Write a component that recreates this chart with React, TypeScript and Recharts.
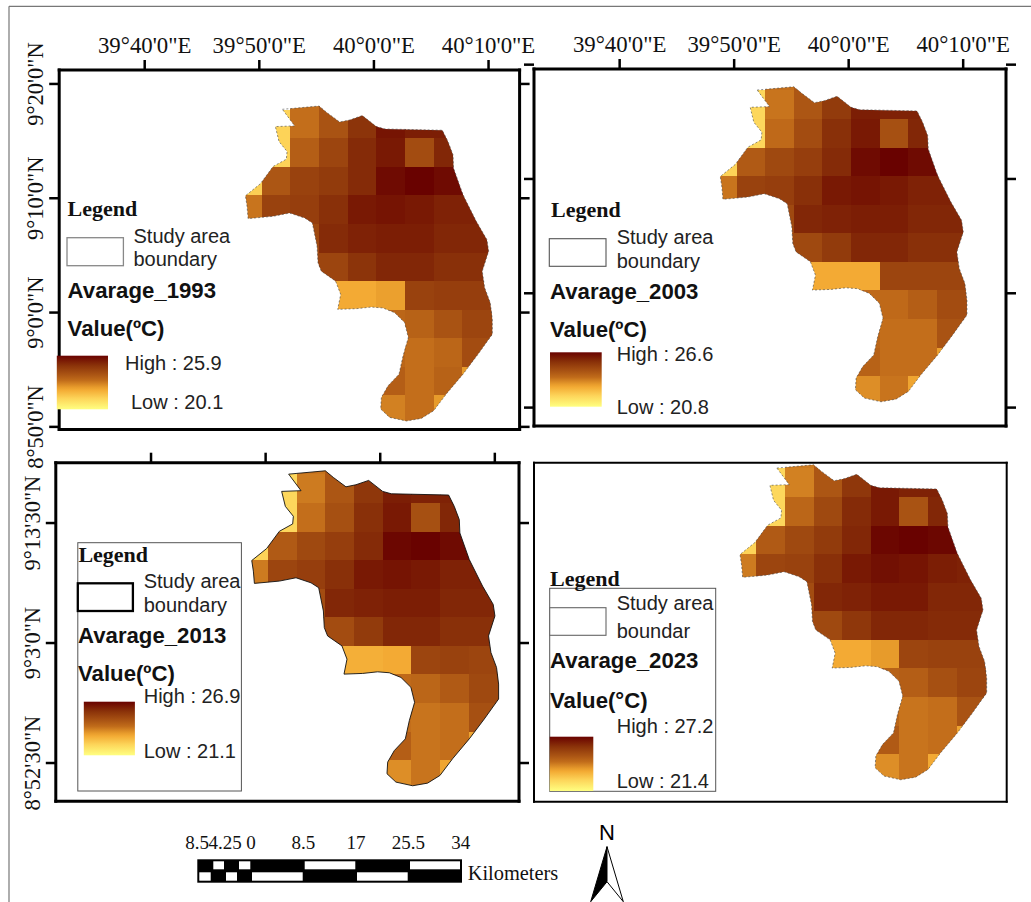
import React from 'react';
import { ScatterChart, Scatter, XAxis, YAxis, ReferenceArea } from 'recharts';

const years = ['1993', '2003', '2013', '2023'];
const highs = [25.9, 26.6, 26.9, 27.2];
const lows = [20.1, 20.8, 21.1, 21.4];
const lonTicks = [40, 50, 60, 70];
const lonTickLabels = ['39°40\'0"E', '39°50\'0"E', '40°0\'0"E', '40°10\'0"E'];
const latTicksUpper = [560, 550, 540, 530];
const latTickLabelsUpper = ['9°20\'0"N', '9°10\'0"N', '9°0\'0"N', '8°50\'0"N'];
const latTicksLower = [553.5, 543, 532.5];
const latTickLabelsLower = ['9°13\'30"N', '9°3\'0"N', '8°52\'30"N'];
const scaleLabels = ['8.5', '4.25', '0', '8.5', '17', '25.5', '34'];

// raster grid: west edges of columns and north edges of rows, in arc-minutes (lon past 39°, lat past 0°)
const colWest = [47.71, 50.21, 52.71, 55.21, 57.71, 60.21, 62.71, 65.21, 67.71, 70.21];
const rowNorth = [560.25, 557.75, 555.25, 552.75, 550.25, 547.75, 545.25, 542.75, 540.25, 537.75, 535.25, 532.75];
const cellSize = 2.5;

const n = null;
const values1993 = [
  [n, n, 23.2, 23.9],
  [n, 21.3, 23.2, 23.9, 24.8, 25.5, 25.3, 25.3],
  [n, 21.3, 23.6, 24.3, 25.0, 25.4, 24.1, 25.1],
  [21.4, 23.8, 24.4, 24.6, 25.0, 25.7, 25.9, 25.7, 25.5],
  [23.1, 24.4, 24.5, 24.9, 25.4, 25.5, 25.4, 25.2, 25.2],
  [n, n, 24.2, 25.0, 25.2, 25.3, 25.3, 25.1, 25.1],
  [n, n, 24.3, 24.3, 24.8, 25.1, 25.1, 24.9, 24.9],
  [n, n, n, 22.2, 22.2, 22.4, 24.4, 24.5, 24.5],
  [n, n, n, n, 22.2, 23.4, 23.5, 23.9, 24.3, 24.3],
  [n, n, n, n, n, 23.4, 23.2, 23.4, 24.1, 24.1],
  [n, n, n, n, n, 23.6, 23.2, 23.5, 22.5],
  [n, n, n, n, n, 22.9, 23.2, 22.5],
];
const values2003 = [
  [n, n, 23.9, 24.5],
  [n, 21.9, 23.8, 24.5, 25.3, 26.0, 25.9, 25.9],
  [n, 21.9, 24.0, 24.8, 25.6, 26.1, 24.7, 25.8],
  [22.0, 24.4, 24.9, 25.2, 25.7, 26.4, 26.6, 26.4, 26.3],
  [23.8, 25.1, 25.2, 25.6, 26.1, 26.2, 26.1, 25.9, 25.9],
  [n, n, 24.9, 25.8, 25.9, 26.0, 26.0, 25.8, 25.8],
  [n, n, 24.9, 24.9, 25.3, 25.8, 25.8, 25.6, 25.6],
  [n, n, n, 22.9, 22.9, 22.9, 25.0, 25.0, 25.0],
  [n, n, n, n, 22.9, 24.0, 24.0, 24.3, 24.8, 24.8],
  [n, n, n, n, n, 24.1, 23.9, 23.9, 24.6, 24.6],
  [n, n, n, n, n, 24.2, 23.9, 23.9, 23.1],
  [n, n, n, n, n, 23.4, 23.8, 23.0],
];
const values2013 = [
  [n, n, 24.1, 24.7],
  [n, 22.2, 24.0, 24.8, 25.7, 26.3, 26.2, 26.2],
  [n, 22.2, 24.2, 25.0, 25.9, 26.4, 25.0, 26.1],
  [22.3, 24.7, 25.2, 25.5, 26.0, 26.8, 26.9, 26.7, 26.6],
  [24.0, 25.3, 25.5, 25.9, 26.4, 26.5, 26.4, 26.2, 26.2],
  [n, n, 25.1, 26.1, 26.2, 26.3, 26.3, 26.1, 26.1],
  [n, n, 25.1, 25.1, 25.6, 26.1, 26.1, 25.9, 25.9],
  [n, n, n, 23.1, 23.1, 23.2, 25.3, 25.4, 25.3],
  [n, n, n, n, 23.1, 24.3, 24.4, 24.7, 25.2, 25.2],
  [n, n, n, n, n, 24.2, 24.1, 24.2, 25.0, 25.0],
  [n, n, n, n, n, 24.6, 24.1, 24.2, 23.3],
  [n, n, n, n, n, 23.7, 24.1, 23.3],
];
const values2023 = [
  [n, n, 24.3, 25.0],
  [n, 22.5, 24.2, 25.1, 26.0, 26.7, 26.5, 26.5],
  [n, 22.5, 24.7, 25.5, 26.3, 26.7, 25.2, 26.4],
  [22.6, 25.0, 25.5, 25.9, 26.4, 27.1, 27.2, 27.1, 26.9],
  [24.3, 25.6, 25.7, 26.2, 26.7, 26.9, 26.8, 26.6, 26.5],
  [n, n, 25.4, 26.4, 26.5, 26.7, 26.7, 26.4, 26.4],
  [n, n, 25.5, 25.5, 26.0, 26.4, 26.4, 26.3, 26.3],
  [n, n, n, 23.5, 23.5, 23.8, 25.6, 25.7, 25.7],
  [n, n, n, n, 23.5, 24.8, 24.9, 25.3, 25.6, 25.6],
  [n, n, n, n, n, 24.7, 24.4, 24.5, 25.2, 25.2],
  [n, n, n, n, n, 25.0, 24.4, 24.5, 23.6],
  [n, n, n, n, n, 24.0, 24.4, 23.5],
];
const allValues = [values1993, values2003, values2013, values2023];

const boundaryLon = [52.01, 55.21, 55.91, 57.01, 57.88, 58.99, 60.21, 60.97, 65.97, 66.46, 66.90, 66.95, 67.77, 68.93, 69.86, 70.01, 69.45, 69.66, 70.15, 70.33, 70.33, 69.08, 67.77, 66.31, 65.21, 64.13, 62.83, 61.37, 60.59, 60.65, 61.23, 62.19, 62.54, 63.00, 62.68, 61.81, 60.79, 59.77, 58.47, 56.84, 57.10, 56.66, 55.41, 55.12, 55.04, 54.63, 53.96, 52.65, 51.20, 49.02, 48.93, 48.79, 50.09, 51.20, 52.36, 52.42, 51.72, 51.40, 53.09];
const boundaryLat = [557.78, 558.07, 557.49, 556.67, 556.85, 557.23, 556.27, 556.06, 555.95, 554.96, 553.80, 552.63, 550.31, 547.98, 546.38, 545.37, 543.62, 542.17, 540.86, 539.41, 538.10, 536.35, 534.61, 532.87, 531.41, 530.74, 530.51, 530.83, 531.56, 532.58, 533.59, 534.61, 536.21, 537.81, 539.12, 539.99, 540.40, 540.48, 540.34, 540.28, 541.59, 542.75, 543.62, 544.35, 545.80, 547.84, 548.27, 548.71, 548.42, 548.22, 549.29, 550.22, 551.27, 552.78, 553.42, 554.09, 554.96, 556.27, 556.33];
const boundary = boundaryLon.map((lon, i) => ({ lon, lat: boundaryLat[i] }));

// colour ramp (position along legend, colour)
const rampT = [0, 0.2, 0.36, 0.41, 0.54, 0.64, 0.82, 1];
const rampC = [[255, 255, 128], [253, 213, 90], [243, 171, 52], [232, 156, 44], [193, 108, 26], [172, 86, 20], [138, 50, 9], [105, 2, 0]];
function rampColor(t: number) {
  const c = Math.max(0, Math.min(1, t));
  let i = 0;
  while (i < rampT.length - 2 && c > rampT[i + 1]) i++;
  const f = (c - rampT[i]) / (rampT[i + 1] - rampT[i]);
  const m = rampC[i].map((a, k) => Math.round(a + (rampC[i + 1][k] - a) * f));
  return `rgb(${m[0]},${m[1]},${m[2]})`;
}

const W = 1031;
const H = 902;
const SERIF = '"Liberation Serif", serif';
const SANS = '"Liberation Sans", sans-serif';

const panels = [
  { l: 59.2, r: 519.6, t: 70, b: 429.5, x: [32.54, 72.71], y: [529.77, 561.22], lonTop: true, lat: 'upper', latLabel: true, sw: 3, ticks: true, line: { stroke: '#444', width: 0.6, dash: '2 2' } },
  { l: 534, r: 1006, t: 69, b: 426, x: [32.52, 73.74], y: [528.39, 559.62], lonTop: true, lat: 'upper', latLabel: false, sw: 3, ticks: true, line: { stroke: '#444', width: 0.6, dash: '2 2' } },
  { l: 55.8, r: 519, t: 462.7, b: 801.3, x: [31.69, 72.11], y: [529.15, 558.78], lonTop: false, lat: 'lower', latLabel: true, sw: 3, ticks: true, line: { stroke: '#111', width: 0.9, dash: undefined } },
  { l: 534, r: 1006.7, t: 462.7, b: 801.7, x: [30.8, 72.08], y: [528.59, 558.25], lonTop: false, lat: 'lower', latLabel: false, sw: 2, ticks: false, line: { stroke: '#444', width: 0.6, dash: '2 2' } },
];

const AXW = 40;

function MapPanel({ index }: { index: number }) {
  const p = panels[index];
  const clipId = `study-area-${index}`;
  const low = lows[index];
  const high = highs[index];
  const matrix = allValues[index];
  const latTicks = p.lat === 'upper' ? latTicksUpper : latTicksLower;
  const latLabels = p.lat === 'upper' ? latTickLabelsUpper : latTickLabelsLower;
  const axisLine = { stroke: '#000', strokeWidth: p.sw, strokeLinecap: 'square' as const };
  const tickLine = p.ticks ? { stroke: '#000', strokeWidth: 2.5 } : false;
  const size = p.ticks ? 10 : 0;
  const lonTick = (q: any) =>
    p.lonTop ? (
      <text x={q.x} y={q.y - 1} textAnchor="middle" fontFamily={SERIF} fontSize={22.8} fill="#111">
        {lonTickLabels[lonTicks.indexOf(q.payload.value)]}
      </text>
    ) : (
      <g />
    );
  const latTick = (q: any) =>
    p.latLabel ? (
      <text
        x={q.x}
        y={q.y}
        transform={`rotate(-90 ${q.x} ${q.y})`}
        textAnchor="middle"
        fontFamily={SERIF}
        fontSize={22.5}
        fill="#111"
      >
        {latLabels[latTicks.indexOf(q.payload.value)]}
      </text>
    ) : (
      <g />
    );
  const boundaryLine = (q: any) => {
    const d = q.points.map((pt: any, i: number) => `${i ? 'L' : 'M'}${pt.x} ${pt.y}`).join(' ') + ' Z';
    return (
      <g>
        <defs>
          <clipPath id={clipId}>
            <path d={d} />
          </clipPath>
        </defs>
        <path d={d} fill="none" stroke={p.line.stroke} strokeWidth={p.line.width} strokeDasharray={p.line.dash} />
      </g>
    );
  };
  const blankTick = () => <g />;
  return (
    <div style={{ position: 'absolute', left: 0, top: 0, width: W, height: H }}>
      <ScatterChart
        width={W}
        height={H}
        margin={{ left: p.l - AXW, right: W - p.r - AXW, top: p.t - AXW, bottom: H - p.b - AXW }}
      >
        <XAxis
          type="number"
          dataKey="lon"
          orientation="top"
          height={AXW}
          domain={p.x}
          allowDataOverflow
          ticks={p.ticks ? lonTicks : []}
          interval={0}
          axisLine={axisLine}
          tickLine={tickLine}
          tickSize={size}
          tickMargin={6}
          tick={lonTick}
        />
        <XAxis
          xAxisId="south"
          type="number"
          orientation="bottom"
          height={AXW}
          domain={p.x}
          allowDataOverflow
          ticks={p.ticks ? lonTicks : []}
          interval={0}
          axisLine={axisLine}
          tickLine={tickLine}
          tickSize={size}
          tick={blankTick}
        />
        <YAxis
          type="number"
          dataKey="lat"
          orientation="left"
          width={AXW}
          domain={p.y}
          allowDataOverflow
          ticks={p.ticks ? latTicks : []}
          interval={0}
          axisLine={axisLine}
          tickLine={tickLine}
          tickSize={size}
          tickMargin={6}
          tick={latTick}
        />
        <YAxis
          yAxisId="east"
          type="number"
          orientation="right"
          width={AXW}
          domain={p.y}
          allowDataOverflow
          ticks={p.ticks ? latTicks : []}
          interval={0}
          axisLine={axisLine}
          tickLine={tickLine}
          tickSize={size}
          tick={blankTick}
        />
        {matrix.flatMap((row, r) =>
          row.map((v, c) =>
            v === null ? null : (
              <ReferenceArea
                key={`${r}-${c}`}
                x1={colWest[c]}
                x2={colWest[c] + cellSize}
                y1={rowNorth[r] - cellSize}
                y2={rowNorth[r]}
                ifOverflow="visible"
                shape={(q: any) => {
                  const col = rampColor((v - low) / (high - low));
                  return (
                    <g clipPath={`url(#${clipId})`}>
                      <rect
                        x={q.x}
                        y={q.y}
                        width={q.width + 0.6}
                        height={q.height + 0.6}
                        fill={col}
                        fillOpacity={1}
                        shapeRendering="crispEdges"
                      />
                    </g>
                  );
                }}
              />
            ),
          ),
        )}
        <Scatter
          data={boundary}
          isAnimationActive={false}
          shape={() => <g />}
          line={boundaryLine}
          fill="none"
        />
      </ScatterChart>
    </div>
  );
}

const legends = [
  { box: null, legend: [67.6, 216], sw: [67, 237.7, 56.4, 28], swc: '#888', swsw: 1.3, study: [133.5, 242.7], bnd: [133.5, 266], bndText: 'boundary', name: [67.6, 297.7], val: [67.6, 335.7], valText: 'Value(ºC)', grad: [56.8, 355.7, 51.2, 53.6], hi: [125, 370], lo: [131, 409] },
  { box: null, legend: [551, 216.7], sw: [549.3, 238.7, 56.7, 27.6], swc: '#555', swsw: 1.1, study: [616.7, 244.3], bnd: [616.7, 267.7], bndText: 'boundary', name: [550, 299], val: [550, 336.7], valText: 'Value(ºC)', grad: [550, 352.3, 51.7, 54.4], hi: [616.7, 360.7], lo: [616.7, 414.3] },
  { box: [77.8, 542.7, 163.6, 248.3], legend: [78.4, 562.3], sw: [77.8, 583.3, 55.1, 27.7], swc: '#000', swsw: 2.3, study: [143.7, 588.3], bnd: [143.7, 611.6], bndText: 'boundary', name: [78, 643], val: [78, 680.7], valText: 'Value(ºC)', grad: [83.8, 701.7, 51.1, 53.6], hi: [143.7, 703.3], lo: [143.7, 758.3] },
  { box: [549.7, 588.3, 166, 203], legend: [550, 586], sw: [549.7, 607.7, 56.3, 27.6], swc: '#666', swsw: 1.1, study: [616.7, 609.7], bnd: [616.7, 637.7], bndText: 'boundar', name: [550, 668.3], val: [550, 707.7], valText: 'Value(°C)', grad: [549.7, 736.7, 43.6, 54.3], hi: [616.7, 733.3], lo: [616.7, 787.7] },
];

const scaleTopWhite = [[213.3, 10.7], [239, 11.3], [304.7, 50.6], [410, 50]];
const scaleBottomWhite = [[199.3, 11.4], [226, 11], [252, 50.7], [357, 50.7]];
const scaleLabelX = [197, 225, 251, 303.3, 356, 408.3, 460.7];

function Overlay() {
  const gradStops = rampT.map((t, i) => (
    <stop key={i} offset={`${(1 - t) * 100}%`} stopColor={rampColor(t)} />
  )).reverse();
  return (
    <svg width={W} height={H} style={{ position: 'absolute', left: 0, top: 0 }}>
      <defs>
        <linearGradient id="ramp" x1="0" y1="0" x2="0" y2="1">
          {gradStops}
        </linearGradient>
      </defs>
      <line x1={9} y1={6.3} x2={W} y2={6.3} stroke="#777" strokeWidth={1.2} />
      <line x1={9} y1={6.3} x2={9} y2={H} stroke="#777" strokeWidth={1.2} />
      {legends.map((g, i) => (
        <g key={i}>
          {g.box && <rect x={g.box[0]} y={g.box[1]} width={g.box[2]} height={g.box[3]} fill="#fff" stroke="#555" strokeWidth={1} />}
          <text x={g.legend[0]} y={g.legend[1]} fontFamily={SERIF} fontWeight="bold" fontSize={22} fill="#111">Legend</text>
          <rect x={g.sw[0]} y={g.sw[1]} width={g.sw[2]} height={g.sw[3]} fill="#fff" stroke={g.swc} strokeWidth={g.swsw} />
          <text x={g.study[0]} y={g.study[1]} fontFamily={SANS} fontSize={20} fill="#222">Study area</text>
          <text x={g.bnd[0]} y={g.bnd[1]} fontFamily={SANS} fontSize={20} fill="#222">{g.bndText}</text>
          <text x={g.name[0]} y={g.name[1]} fontFamily={SANS} fontWeight="bold" fontSize={22.2} fill="#111">{`Avarage_${years[i]}`}</text>
          <text x={g.val[0]} y={g.val[1]} fontFamily={SANS} fontWeight="bold" fontSize={22.2} fill="#111">{g.valText}</text>
          <rect x={g.grad[0]} y={g.grad[1]} width={g.grad[2]} height={g.grad[3]} fill="url(#ramp)" />
          <text x={g.hi[0]} y={g.hi[1]} fontFamily={SANS} fontSize={20} fill="#222">{`High : ${highs[i]}`}</text>
          <text x={g.lo[0]} y={g.lo[1]} fontFamily={SANS} fontSize={20} fill="#222">{`Low : ${lows[i]}`}</text>
        </g>
      ))}
      <rect x={197.3} y={859.3} width={264.7} height={23.4} fill="#000" />
      {scaleTopWhite.map((s, i) => <rect key={i} x={s[0]} y={861.3} width={s[1]} height={8} fill="#fff" />)}
      {scaleBottomWhite.map((s, i) => <rect key={i} x={s[0]} y={872.3} width={s[1]} height={8.4} fill="#fff" />)}
      {scaleLabels.map((s, i) => (
        <text key={i} x={scaleLabelX[i]} y={849.3} textAnchor="middle" fontFamily={SERIF} fontSize={19} fill="#111">{s}</text>
      ))}
      <text x={467.7} y={880} fontFamily={SERIF} fontSize={20.4} fill="#111">Kilometers</text>
      <text x={607} y={840} textAnchor="middle" fontFamily={SANS} fontSize={22} fill="#000">N</text>
      <path d="M607 846.7 L590.7 901.7 L607 881.7 Z" fill="#000" stroke="#000" strokeWidth={1} />
      <path d="M607 846.7 L623.3 901.7 L607 881.7 Z" fill="#fff" stroke="#000" strokeWidth={1} />
    </svg>
  );
}

export default function App() {
  return (
    <div style={{ position: 'absolute', left: 0, top: 0, width: W, height: H, overflow: 'hidden', background: '#fff' }}>
      {panels.map((_, i) => <MapPanel key={i} index={i} />)}
      <Overlay />
    </div>
  );
}
